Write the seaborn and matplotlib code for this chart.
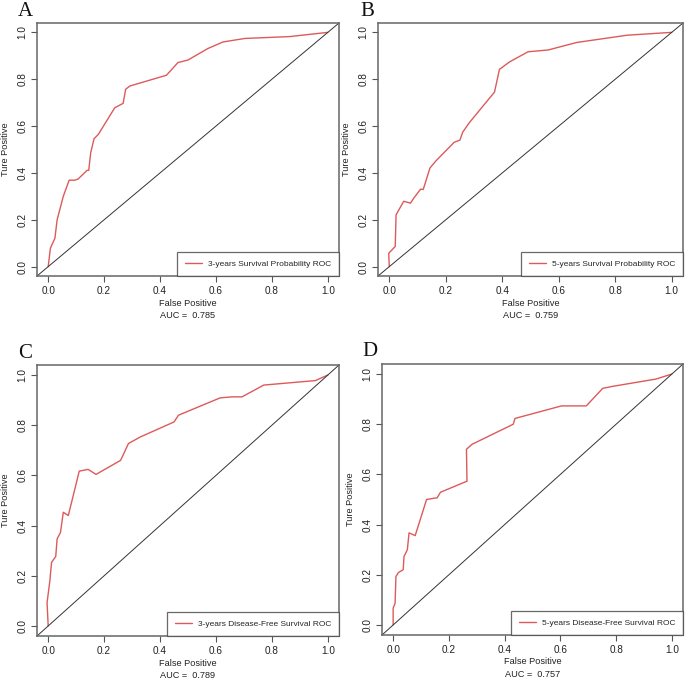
import matplotlib
matplotlib.use("Agg")
import matplotlib.pyplot as plt
import pandas as pd
import seaborn as sns

# ROC 曲線資料
fpr_a = [0, 0.008, 0.024, 0.032, 0.054, 0.075, 0.095, 0.107, 0.139, 0.145, 0.152, 0.164, 0.179,
         0.238, 0.268, 0.277, 0.292, 0.423, 0.464, 0.5, 0.571, 0.625, 0.703, 0.863, 1]
tpr_a = [0, 0.079, 0.121, 0.2, 0.3, 0.369, 0.369, 0.374, 0.411, 0.411, 0.486, 0.546, 0.564,
         0.678, 0.697, 0.757, 0.771, 0.817, 0.871, 0.882, 0.931, 0.959, 0.974, 0.982, 1]

fpr_b = [0, -0.002, 0.021, 0.024, 0.051, 0.075, 0.087, 0.111, 0.12, 0.131, 0.144, 0.164, 0.23,
         0.25, 0.26, 0.283, 0.3725, 0.39, 0.426, 0.491, 0.563, 0.664, 0.843, 1]
tpr_b = [0, 0.057, 0.086, 0.221, 0.279, 0.271, 0.293, 0.331, 0.329, 0.371, 0.421, 0.45, 0.531,
         0.54, 0.574, 0.614, 0.745, 0.842, 0.874, 0.917, 0.925, 0.957, 0.988, 1]

fpr_c = [0, -0.004, 0.006, 0.012, 0.027, 0.032, 0.044, 0.054, 0.072, 0.111, 0.143, 0.171, 0.259,
         0.287, 0.329, 0.45, 0.466, 0.615, 0.657, 0.693, 0.771, 0.956, 1]
tpr_c = [0, 0.093, 0.18, 0.253, 0.277, 0.347, 0.373, 0.453, 0.44, 0.617, 0.624, 0.604, 0.66,
         0.727, 0.753, 0.813, 0.84, 0.909, 0.913, 0.913, 0.96, 0.978, 1]

fpr_d = [0, 0, 0.007, 0.01, 0.019, 0.036, 0.039, 0.051, 0.057, 0.079, 0.12, 0.158, 0.17, 0.265,
         0.263, 0.283, 0.431, 0.437, 0.604, 0.693, 0.752, 0.788, 0.943, 1]
tpr_d = [0, 0.067, 0.087, 0.193, 0.209, 0.22, 0.273, 0.3, 0.367, 0.356, 0.5, 0.507, 0.529, 0.573,
         0.7, 0.72, 0.8, 0.823, 0.873, 0.873, 0.943, 0.951, 0.98, 1]

panel_labels = ["A", "B", "C", "D"]
legend_texts = ["3-years Survival Probability ROC", "5-years Survival Probability ROC",
                "3-years Disease-Free Survival ROC", "5-years Disease-Free Survival ROC"]
auc_values = ["0.785", "0.759", "0.789", "0.757"]
ticks = [0.0, 0.2, 0.4, 0.6, 0.8, 1.0]

sns.set_style("ticks")
plt.rcParams['font.family'] = ['Liberation Sans Narrow', 'Liberation Sans', 'DejaVu Sans']

W, H = 685, 682
fig = plt.figure(figsize=(W / 100, H / 100), dpi=100)

# 各子圖位置 (像素: 左, 右, 上, 下)
boxes = [(37, 339, 23, 276), (378, 683, 23, 276), (37, 339, 365, 636), (382, 683, 364, 635)]
label_pos = [(18, 12), (360, 12), (18, 354), (362, 352)]
curves = [(fpr_a, tpr_a), (fpr_b, tpr_b), (fpr_c, tpr_c), (fpr_d, tpr_d)]

red = "#DD5A5A"
for i in range(4):
    l, r, t, b = boxes[i]
    ax = fig.add_axes([l / W, 1 - b / H, (r - l) / W, (b - t) / H])
    df = pd.DataFrame({"fpr": curves[i][0], "tpr": curves[i][1]})
    sns.lineplot(data=df, x="fpr", y="tpr", sort=False, estimator=None,
                 color=red, lw=1.0, ax=ax, label=legend_texts[i])
    ax.axline((0, 0), (1, 1), color="#333333", lw=0.7)
    ax.set_xlim(-0.04, 1.04)
    ax.set_ylim(-0.04, 1.04)
    ax.set_xticks(ticks)
    ax.set_yticks(ticks)
    ax.set_xticklabels([f"{v:.1f}" for v in ticks])
    ax.set_yticklabels([f"{v:.1f}" for v in ticks], rotation=90, va="center")
    ax.tick_params(axis="both", labelsize=7.2, length=4, width=0.8, color="#555555",
                   labelcolor="#222222", pad=3)
    for s in ax.spines.values():
        s.set_color("#666666")
        s.set_linewidth(1.1)
    ax.set_xlabel("False Positive\nAUC =  " + auc_values[i], fontsize=6.6,
                  color="#222222", linespacing=1.45, labelpad=2)
    ax.set_ylabel("Ture Positive", fontsize=6.6, color="#222222", labelpad=5)
    leg = ax.legend(loc="lower right", borderaxespad=0, fancybox=False, fontsize=6.0,
                    handlelength=2.0, borderpad=0.95, handletextpad=0.7)
    leg.get_frame().set_edgecolor("#444444")
    leg.get_frame().set_linewidth(0.9)
    lx, ly = label_pos[i]
    fig.text(lx / W, 1 - ly / H, panel_labels[i], fontsize=15, va="center", ha="left",
             family=["Liberation Serif", "DejaVu Serif"], color="#111111")

fig.savefig("out.png", dpi=100)
